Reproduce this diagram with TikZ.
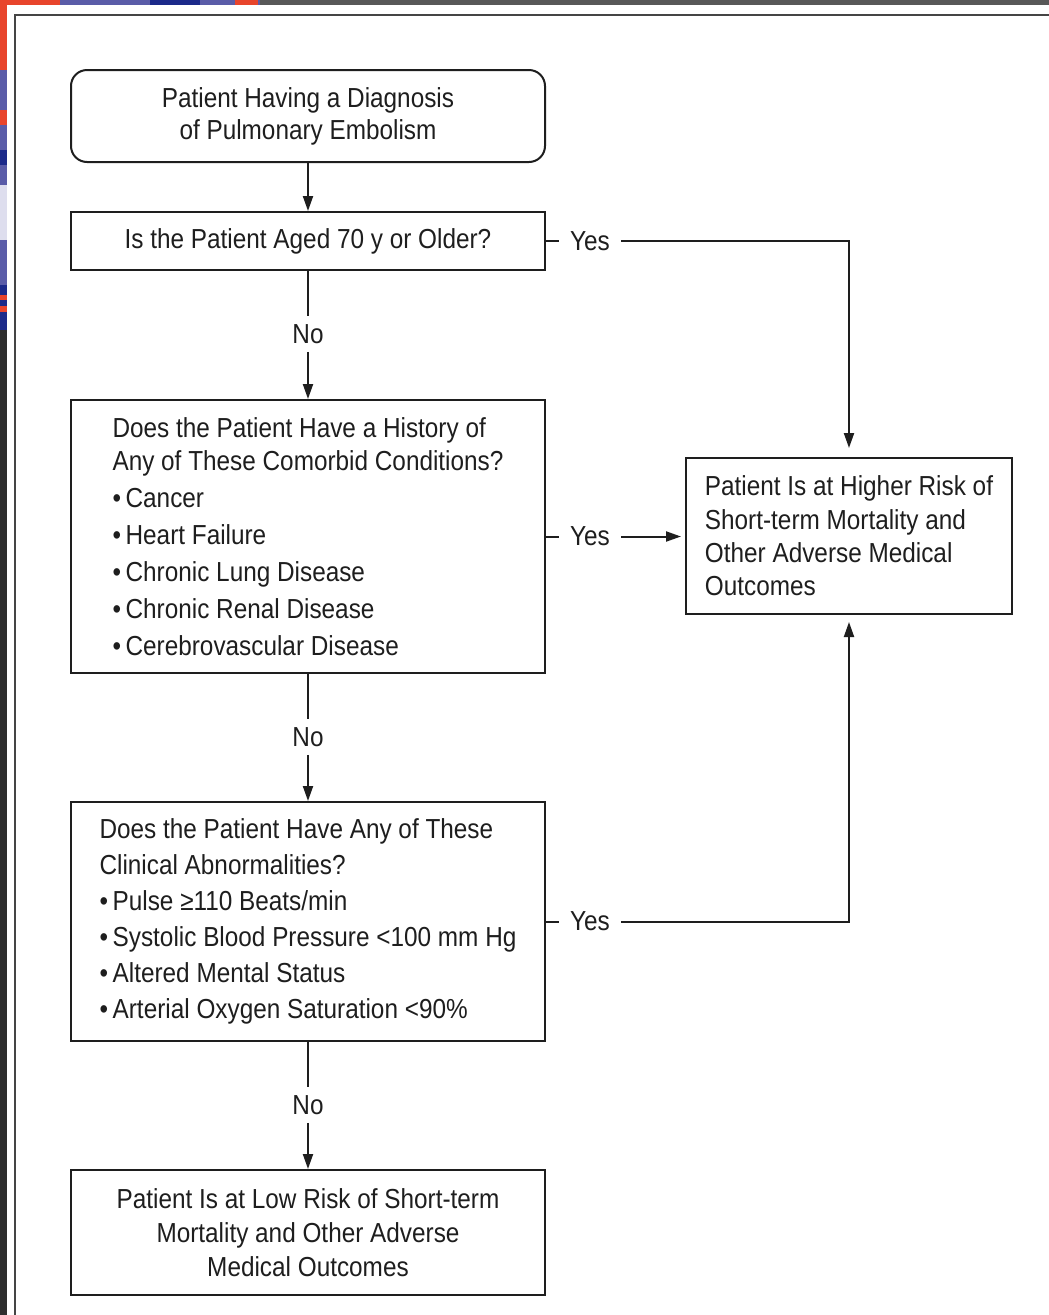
\documentclass[tikz,border=0pt]{standalone}
\usepackage{fontspec}
\setmainfont{Liberation Sans}[FakeStretch=0.885]
\usetikzlibrary{arrows.meta,calc}
\definecolor{ink}{HTML}{1E1E1E}
\definecolor{frameline}{HTML}{454545}
\definecolor{darkbg}{HTML}{2E2E2E}
\definecolor{topband}{HTML}{585858}
\definecolor{imgblue}{HTML}{5A5CA8}
\definecolor{imgnavy}{HTML}{1C2A8A}
\definecolor{imgred}{HTML}{E8452C}
\tikzset{
  box/.style={draw=ink, line width=2pt, minimum width=474pt, inner sep=0pt, align=center, text=ink},
  leftbox/.style={box, align=left},
  lbl/.style={fill=white, inner xsep=11pt, inner ysep=8pt, text=ink},
  conn/.style={draw=ink, line width=2pt},
  arr/.style={conn, -{Triangle[length=15pt,width=10pt]}},
  txt26/.style={font=\fontsize{27.5}{33}\selectfont}
}
\begin{document}
\begin{tikzpicture}[x=1pt,y=-1pt]
\useasboundingbox (0,0) rectangle (1049,1315);
% screenshot surroundings
\fill[darkbg] (0,0) rectangle (1049,1315);
\fill[topband] (260,0) rectangle (1049,5);
\fill[imgblue] (0,0) rectangle (260,5);
\fill[imgred] (0,0) rectangle (60,5);
\fill[imgnavy] (150,0) rectangle (200,5);
\fill[imgred] (235,0) rectangle (258,5);
\fill[imgblue] (0,0) rectangle (7,330);
\fill[imgred] (0,0) rectangle (7,70);
\fill[imgred] (0,110) rectangle (7,125);
\fill[imgnavy] (0,150) rectangle (7,165);
\fill[white!80!imgblue] (0,185) rectangle (7,240);
\fill[imgnavy] (0,285) rectangle (7,330);
\fill[imgred] (0,295) rectangle (7,300);
\fill[imgred] (0,306) rectangle (7,312);
\fill[white] (7,5) rectangle (1049,1315);
\draw[frameline, line width=2.5pt] (1049,15) -- (15,15) -- (15,1315);

% boxes
\node[box, rounded corners=16pt, minimum height=92pt, font=\fontsize{27.5}{32}\selectfont]
  (start) at (308,116) {Patient Having a Diagnosis\\of Pulmonary Embolism};
\node[box, minimum height=58pt, txt26] (age) at (308,241) {Is the Patient Aged 70 y or Older?};
\node[leftbox, minimum height=273pt, txt26] (comor) at (308,536.5)
  {Does the Patient Have a History of\\Any of These Comorbid Conditions?\\[4pt]
   •\,Cancer\\[4pt]
   •\,Heart Failure\\[4pt]
   •\,Chronic Lung Disease\\[4pt]
   •\,Chronic Renal Disease\\[4pt]
   •\,Cerebrovascular Disease};
\node[leftbox, minimum height=239pt, font=\fontsize{27.5}{36}\selectfont] (clin) at (308,921.5)
  {Does the Patient Have Any of These\\Clinical Abnormalities?\\
   •\,Pulse ≥110 Beats/min\\
   •\,Systolic Blood Pressure <100 mm Hg\\
   •\,Altered Mental Status\\
   •\,Arterial Oxygen Saturation <90\%};
\node[box, minimum height=125pt, font=\fontsize{27.5}{34}\selectfont] (low) at (308,1232.5)
  {Patient Is at Low Risk of Short-term\\Mortality and Other Adverse\\Medical Outcomes};
\node[leftbox, minimum width=326pt, minimum height=156pt, font=\fontsize{27.5}{33.3}\selectfont] (high) at (849,536)
  {Patient Is at Higher Risk of\\Short-term Mortality and\\Other Adverse Medical\\Outcomes};

% labels
\node[lbl, txt26] (no1) at (308,334) {No};
\node[lbl, txt26] (no2) at (308,737) {No};
\node[lbl, txt26] (no3) at (308,1105) {No};
\node[lbl, txt26] (yes1) at (590,241) {Yes};
\node[lbl, txt26] (yes2) at (590,536.5) {Yes};
\node[lbl, txt26] (yes3) at (590,921.5) {Yes};

% connectors
\draw[arr] (start) -- (age);
\draw[conn] (age) -- (no1);
\draw[arr] (no1) -- (comor);
\draw[conn] (comor) -- (no2);
\draw[arr] (no2) -- (clin);
\draw[conn] (clin) -- (no3);
\draw[arr] (no3) -- (low);

\draw[conn] (age.east) -- (yes1.west);
\draw[arr, shorten >=9pt] (yes1.east) -| (high.north);
\draw[conn] (comor.east) -- (yes2.west);
\draw[arr, shorten >=4pt] (yes2.east) -- (yes2.east -| high.west);
\draw[conn] (clin.east) -- (yes3.west);
\draw[arr, shorten >=7pt] (yes3.east) -| (high.south);
\end{tikzpicture}
\end{document}
